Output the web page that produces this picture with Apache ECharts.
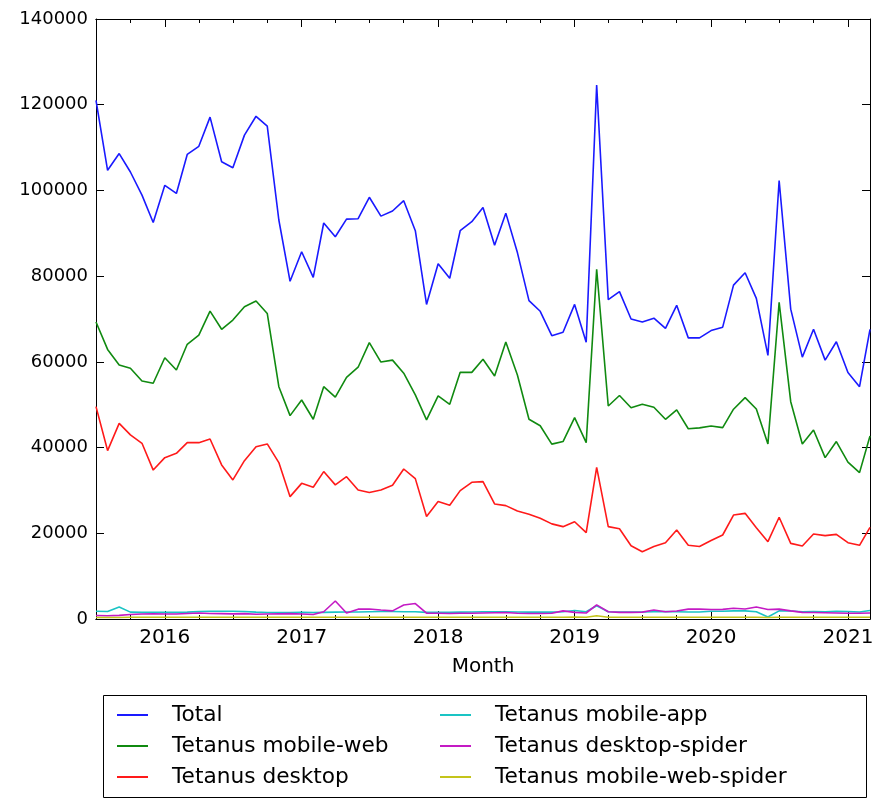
<!DOCTYPE html>
<html>
<head>
<meta charset="utf-8">
<script src="https://cdn.jsdelivr.net/npm/echarts@6/dist/echarts.min.js"></script>
<style>
  html, body { margin: 0; padding: 0; background: #fff; }
  #main { width: 893px; height: 804px; }
</style>
</head>
<body>
<div id="main"></div>
<script>
// monthly, Jul 2015 .. Mar 2021
var startYear = 2015, startMonth = 7, monthCount = 69;
var months = [];
for (var i = 0; i < monthCount; i++) {
    var m = startMonth - 1 + i;
    var y = startYear + Math.floor(m / 12);
    var mm = (m % 12) + 1;
    months.push(y + '-' + (mm < 10 ? '0' + mm : mm) + '-01');
}

var total = [
    121000, 104700, 108600, 104300, 98900, 92500, 101200, 99300, 108400, 110300, 117100, 106700,
    105300, 112900, 117300, 115000, 93100, 78800, 85700, 79700, 92400, 89200, 93300, 93400,
    98400, 94000, 95200, 97600, 90600, 73400, 82900, 79500, 90600, 92700, 96000, 87200,
    94700, 85500, 74300, 71800, 66100, 66900, 73400, 64600, 124600, 74500, 76400, 70000,
    69300, 70200, 67800, 73200, 65600, 65600, 67300, 68100, 77900, 80800, 74800, 61500,
    102300, 72300, 61100, 67600, 60400, 64700, 57500, 54200, 67600
];
var mobileWeb = [
    69300, 62900, 59250, 58500, 55550, 55000, 60950, 58100, 64100, 66250, 71850, 67600,
    69750, 72850, 74200, 71300, 54200, 47450, 51100, 46600, 54200, 51750, 56400, 58750,
    64500, 59950, 60400, 57350, 52300, 46450, 52050, 50100, 57550, 57550, 60600, 56700,
    64650, 56950, 46600, 45100, 40800, 41400, 47000, 41150, 81600, 49700, 52150, 49300,
    50100, 49400, 46600, 48800, 44400, 44600, 45050, 44650, 48950, 51650, 49000, 40850,
    73900, 50700, 40850, 44100, 37650, 41400, 36600, 34150, 42700
];
var desktop = [
    49550, 39300, 45650, 42950, 41000, 34750, 37650, 38650, 41150, 41150, 42000, 35950,
    32450, 36950, 40200, 40850, 36500, 28550, 31650, 30750, 34400, 31300, 33200, 30100,
    29500, 30100, 31200, 35000, 32750, 23900, 27400, 26550, 29950, 31900, 32050, 26850,
    26450, 25200, 24450, 23500, 22200, 21550, 22700, 20150, 35400, 21550, 21050, 17100,
    15700, 16900, 17800, 20750, 17200, 16900, 18300, 19600, 24250, 24650, 21300, 18050,
    23750, 17650, 17050, 19850, 19450, 19750, 17800, 17200, 21400
];
var mobileApp = [
    1800, 1750, 2800, 1600, 1550, 1550, 1550, 1550, 1600, 1750, 1800, 1800,
    1800, 1750, 1600, 1500, 1500, 1500, 1550, 1500, 1550, 1600, 1650, 1650,
    1700, 1750, 1750, 1700, 1700, 1550, 1550, 1550, 1600, 1650, 1700, 1700,
    1700, 1650, 1600, 1600, 1600, 1700, 2000, 1700, 3100, 1700, 1650, 1650,
    1650, 1700, 1750, 1700, 1650, 1650, 1800, 1800, 1900, 1900, 1700, 450,
    1900, 1850, 1700, 1750, 1700, 1800, 1750, 1650, 2000
];
var desktopSpider = [
    800, 750, 850, 1050, 1150, 1200, 1150, 1150, 1300, 1400, 1300, 1250,
    1200, 1250, 1100, 1150, 1200, 1250, 1150, 1050, 1700, 4200, 1400, 2300,
    2350, 2100, 1900, 3250, 3600, 1350, 1350, 1300, 1350, 1350, 1400, 1450,
    1500, 1350, 1300, 1300, 1350, 1900, 1550, 1400, 3300, 1700, 1550, 1550,
    1600, 2100, 1700, 1850, 2300, 2300, 2200, 2250, 2500, 2350, 2800, 2200,
    2300, 1900, 1550, 1500, 1450, 1400, 1350, 1350, 1400
];
var mobileWebSpider = [
    350, 350, 350, 400, 400, 400, 400, 400, 400, 400, 400, 400,
    400, 400, 400, 400, 400, 400, 400, 400, 400, 400, 400, 400,
    400, 400, 400, 400, 400, 400, 400, 400, 400, 400, 400, 400,
    400, 400, 400, 400, 400, 400, 450, 400, 750, 400, 400, 400,
    400, 400, 400, 400, 400, 400, 400, 400, 400, 400, 400, 350,
    400, 400, 400, 400, 400, 400, 400, 400, 400
];
var yTicks = { min: 0, max: 140000, interval: 20000 };
var xRange = { min: '2015-07-01', max: '2021-03-01' };

var font = 'DejaVu Sans';
var DAY = 24 * 3600 * 1000;

function pair(arr) {
    return arr.map(function (v, i) { return [months[i], v]; });
}

var seriesDefs = [
    { name: 'Total', data: total, color: '#1a1aff' },
    { name: 'Tetanus mobile-web', data: mobileWeb, color: '#108a10' },
    { name: 'Tetanus desktop', data: desktop, color: '#ff1a1a' },
    { name: 'Tetanus mobile-app', data: mobileApp, color: '#1ac4c4' },
    { name: 'Tetanus desktop-spider', data: desktopSpider, color: '#c41ac4' },
    { name: 'Tetanus mobile-web-spider', data: mobileWebSpider, color: '#c4c41a' }
];

function timeAxis(pos, major, showLabel) {
    var ax = {
        type: 'time',
        position: pos,
        min: xRange.min,
        max: xRange.max,
        minInterval: major ? 365 * DAY : 90 * DAY,
        maxInterval: major ? 366 * DAY : 92 * DAY,
        axisLine: { show: true, onZero: false, lineStyle: { color: '#000', width: 1 } },
        axisTick: { show: true, inside: true, length: major ? 8 : 4, lineStyle: { color: '#000', width: 1 } },
        axisLabel: { show: false },
        splitLine: { show: false }
    };
    if (showLabel) {
        ax.axisLabel = {
            show: true,
            color: '#000',
            fontFamily: font,
            fontSize: 20,
            margin: 9,
            showMinLabel: false,
            showMaxLabel: false,
            formatter: function (val) { return String(new Date(val).getFullYear()); }
        };
        ax.name = 'Month';
        ax.nameLocation = 'middle';
        ax.nameGap = 38;
        ax.nameTextStyle = { color: '#000', fontFamily: font, fontSize: 20 };
    }
    return ax;
}

function valueAxis(pos, showLabel) {
    return {
        type: 'value',
        position: pos,
        min: yTicks.min,
        max: yTicks.max,
        interval: yTicks.interval,
        axisLine: { show: true, lineStyle: { color: '#000', width: 1 } },
        axisTick: { show: true, inside: true, length: 8, lineStyle: { color: '#000', width: 1 } },
        axisLabel: {
            show: showLabel, color: '#000', fontFamily: font, fontSize: 18, margin: 8,
            formatter: function (v) { return String(v); }
        },
        splitLine: { show: false }
    };
}

var chart = echarts.init(document.getElementById('main'), null, { renderer: 'canvas' });

var legendBase = {
    orient: 'vertical',
    top: 704,
    padding: 0,
    itemWidth: 31,
    itemHeight: 2,
    itemGap: 9,
    icon: 'rect',
    selectedMode: false,
    textStyle: { color: '#000', fontFamily: font, fontSize: 21.7, lineHeight: 22, padding: [0, 0, 0, 19] }
};

var option = {
    backgroundColor: '#fff',
    animation: false,
    grid: { left: 96, right: 23, top: 19, bottom: 185, containLabel: false },
    xAxis: [
        timeAxis('bottom', true, true),
        timeAxis('bottom', false, false),
        timeAxis('top', true, false),
        timeAxis('top', false, false)
    ],
    yAxis: [valueAxis('left', true), valueAxis('right', false)],
    legend: [
        Object.assign({}, legendBase, { left: 117, data: seriesDefs.slice(0, 3).map(function (s) { return s.name; }) }),
        Object.assign({}, legendBase, { left: 440, data: seriesDefs.slice(3).map(function (s) { return s.name; }) })
    ],
    graphic: [{
        type: 'rect',
        shape: { x: 103.5, y: 695.5, width: 763, height: 102 },
        style: { fill: 'none', stroke: '#000', lineWidth: 1 },
        z: 10
    }],
    series: seriesDefs.map(function (s) {
        return {
            name: s.name,
            type: 'line',
            xAxisIndex: 0,
            yAxisIndex: 0,
            data: pair(s.data),
            showSymbol: false,
            symbol: 'none',
            color: s.color,
            lineStyle: { color: s.color, width: 1.6 },
            itemStyle: { color: s.color }
        };
    })
};

chart.setOption(option);
</script>
</body>
</html>
